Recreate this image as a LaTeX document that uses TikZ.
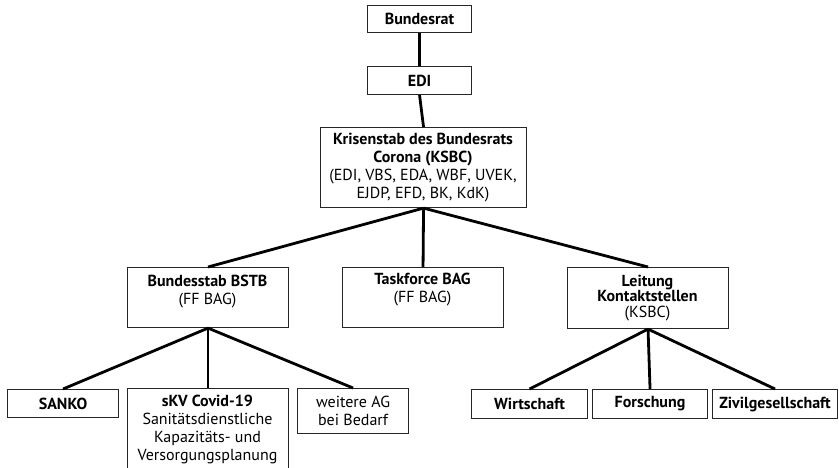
\documentclass[tikz,border=0pt]{standalone}
\usepackage{fontspec}
\setmainfont{PT Sans}
\begin{document}
\begin{tikzpicture}[x=1pt,y=-1pt,
  box/.style={draw=black!85, line width=1.1pt, rectangle, inner sep=0pt, anchor=north west},
  conn/.style={draw=black, line width=2.8pt},
  txt/.style={align=center, inner sep=0pt, font=\fontsize{16}{18}\selectfont}]
\useasboundingbox (0,0) rectangle (839,467);
\clip (0,0) rectangle (839,467);
% boxes
\node[box, minimum width=104, minimum height=27] (bundesrat) at (367,5) {};
\node[box, minimum width=104, minimum height=28] (edi) at (367,66) {};
\node[box, minimum width=206, minimum height=80] (ksbc) at (320,127) {};
\node[box, minimum width=161, minimum height=60] (bstb) at (127,267) {};
\node[box, minimum width=161, minimum height=60] (tf) at (342,267) {};
\node[box, minimum width=161, minimum height=61] (leit) at (567,267) {};
\node[box, minimum width=111, minimum height=28] (sanko) at (7,389) {};
\node[box, minimum width=161, minimum height=100] (skv) at (127,388) {};
\node[box, minimum width=111, minimum height=45] (weitere) at (297,388) {};
\node[box, minimum width=116, minimum height=29] (wirt) at (471,389) {};
\node[box, minimum width=115, minimum height=29] (forsch) at (592,389) {};
\node[box, minimum width=125, minimum height=29] (zivil) at (712,389) {};
% texts
\node[txt] at (bundesrat.center) {\textbf{Bundesrat}};
\node[txt] at (edi.center) {\textbf{EDI}};
\node[txt] at (423,168) {\textbf{Krisenstab des Bundesrats}\\\textbf{Corona (KSBC)}\\(EDI, VBS, EDA, WBF, UVEK,\\EJDP, EFD, BK, KdK)};
\node[txt] at (207.5,291.5) {\textbf{Bundesstab BSTB}\\(FF BAG)};
\node[txt] at (422.5,290) {\textbf{Taskforce BAG}\\(FF BAG)};
\node[txt, font=\fontsize{16}{15.5}\selectfont] at (647.5,298) {\textbf{Leitung}\\\textbf{Kontaktstellen}\\(KSBC)};
\node[txt] at (sanko.center) {\textbf{SANKO}};
\node[txt] at (207.5,429) {\textbf{sKV Covid-19}\\Sanitätsdienstliche\\Kapazitäts- und\\Versorgungsplanung};
\node[txt] at (weitere.center) {weitere AG\\bei Bedarf};
\node[txt] at (wirt.center) {\textbf{Wirtschaft}};
\node[txt] at (forsch.center) {\textbf{Forschung}};
\node[txt] at (zivil.center) {\textbf{Zivilgesellschaft}};
% connectors
\draw[conn] (bundesrat.south) -- (edi.north);
\draw[conn] (edi.south) -- (ksbc.north);
\draw[conn] (ksbc.south) -- (bstb.north);
\draw[conn] (ksbc.south) -- (tf.north);
\draw[conn] (ksbc.south) -- (leit.north);
\draw[conn] (bstb.south) -- (sanko.north);
\draw[conn] (bstb.south) -- (skv.north);
\draw[conn] (bstb.south) -- (weitere.north);
\draw[conn] (leit.south) -- (wirt.north);
\draw[conn] (leit.south) -- (forsch.north);
\draw[conn] (leit.south) -- (zivil.north);
\end{tikzpicture}
\end{document}
